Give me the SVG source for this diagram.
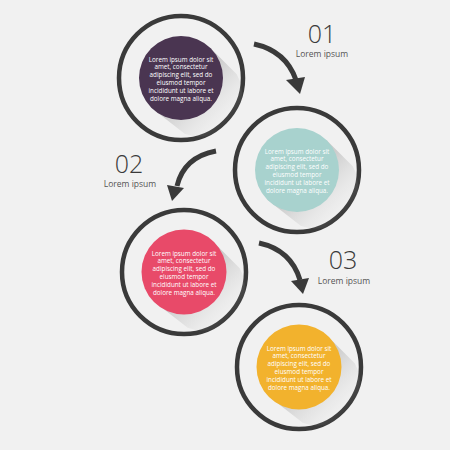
<svg xmlns="http://www.w3.org/2000/svg" width="450" height="450" viewBox="0 0 450 450">
<defs>
<style>
.ring{fill:none;stroke:#3a3a3a;stroke-width:4.5}
.body{font-family:"Open Sans","Liberation Sans",sans-serif;font-size:6.3px;fill:#ffffff;text-anchor:middle}
.num{font-family:"Open Sans","Liberation Sans",sans-serif;font-weight:300;font-size:25px;fill:#3a3a3a;text-anchor:middle}
.lbl{font-family:"Open Sans","Liberation Sans",sans-serif;font-size:8.5px;fill:#555555;text-anchor:middle}
.conn{fill:none;stroke:#3a3a3a;stroke-width:5}
.head{fill:#3a3a3a}
.shadow{fill:url(#sh)}
</style>
<linearGradient id="sh" gradientUnits="userSpaceOnUse" x1="10" y1="10" x2="46" y2="46">
<stop offset="0" stop-color="#a0a0a0" stop-opacity="0.45"/>
<stop offset="1" stop-color="#d0d0d0" stop-opacity="0"/>
</linearGradient>
<path id="shp" d="M29.7,-29.7 L55.7,-3.7 A42,42 0 0 1 3.7,55.7 L-29.7,29.7 Z"/>
</defs>
<rect width="450" height="450" fill="#f1f1f1"/>

<g id="node1" transform="translate(181,78)">
<circle class="ring" r="62"/>
<use href="#shp" class="shadow"/>
<circle r="42" fill="#4a3551"/>
<text class="body"><tspan x="0" y="-16.5">Lorem ipsum dolor sit</tspan><tspan x="0" y="-8.7">amet, consectetur</tspan><tspan x="0" y="-0.9">adipiscing elit, sed do</tspan><tspan x="0" y="6.9">eiusmod tempor</tspan><tspan x="0" y="14.7">incididunt ut labore et</tspan><tspan x="0" y="22.5">dolore magna aliqua.</tspan></text>
</g>

<g id="node2" transform="translate(297,170)">
<circle class="ring" r="62"/>
<use href="#shp" class="shadow"/>
<circle r="42" fill="#a8d2ce"/>
<text class="body"><tspan x="0" y="-16.5">Lorem ipsum dolor sit</tspan><tspan x="0" y="-8.7">amet, consectetur</tspan><tspan x="0" y="-0.9">adipiscing elit, sed do</tspan><tspan x="0" y="6.9">eiusmod tempor</tspan><tspan x="0" y="14.7">incididunt ut labore et</tspan><tspan x="0" y="22.5">dolore magna aliqua.</tspan></text>
</g>

<g id="node3" transform="translate(184,272)">
<circle class="ring" r="62"/>
<use href="#shp" class="shadow"/>
<circle r="42.5" fill="#e84a69"/>
<text class="body"><tspan x="0" y="-16.5">Lorem ipsum dolor sit</tspan><tspan x="0" y="-8.7">amet, consectetur</tspan><tspan x="0" y="-0.9">adipiscing elit, sed do</tspan><tspan x="0" y="6.9">eiusmod tempor</tspan><tspan x="0" y="14.7">incididunt ut labore et</tspan><tspan x="0" y="22.5">dolore magna aliqua.</tspan></text>
</g>

<g id="node4" transform="translate(299,367)">
<circle class="ring" r="62"/>
<use href="#shp" class="shadow"/>
<circle r="42.5" fill="#f2b22d"/>
<text class="body"><tspan x="0" y="-16.5">Lorem ipsum dolor sit</tspan><tspan x="0" y="-8.7">amet, consectetur</tspan><tspan x="0" y="-0.9">adipiscing elit, sed do</tspan><tspan x="0" y="6.9">eiusmod tempor</tspan><tspan x="0" y="14.7">incididunt ut labore et</tspan><tspan x="0" y="22.5">dolore magna aliqua.</tspan></text>
</g>

<g id="label1">
<text class="num" x="322" y="43">01</text>
<text class="lbl" x="322" y="57">Lorem ipsum</text>
</g>
<g id="label2">
<text class="num" x="129" y="173">02</text>
<text class="lbl" x="130" y="187">Lorem ipsum</text>
</g>
<g id="label3">
<text class="num" x="343" y="269">03</text>
<text class="lbl" x="344" y="284">Lorem ipsum</text>
</g>

<g id="connectors">
<path class="conn" d="M254,44 Q286,51 296,80"/>
<polygon class="head" points="286,80 305,77 300,94"/>
<path class="conn" d="M216,151 Q184,157 177,186"/>
<polygon class="head" points="167,185 184,188 172,201"/>
<path class="conn" d="M259,243 Q291,250 300,280"/>
<polygon class="head" points="291,281 309,278 303,294"/>
</g>
</svg>
